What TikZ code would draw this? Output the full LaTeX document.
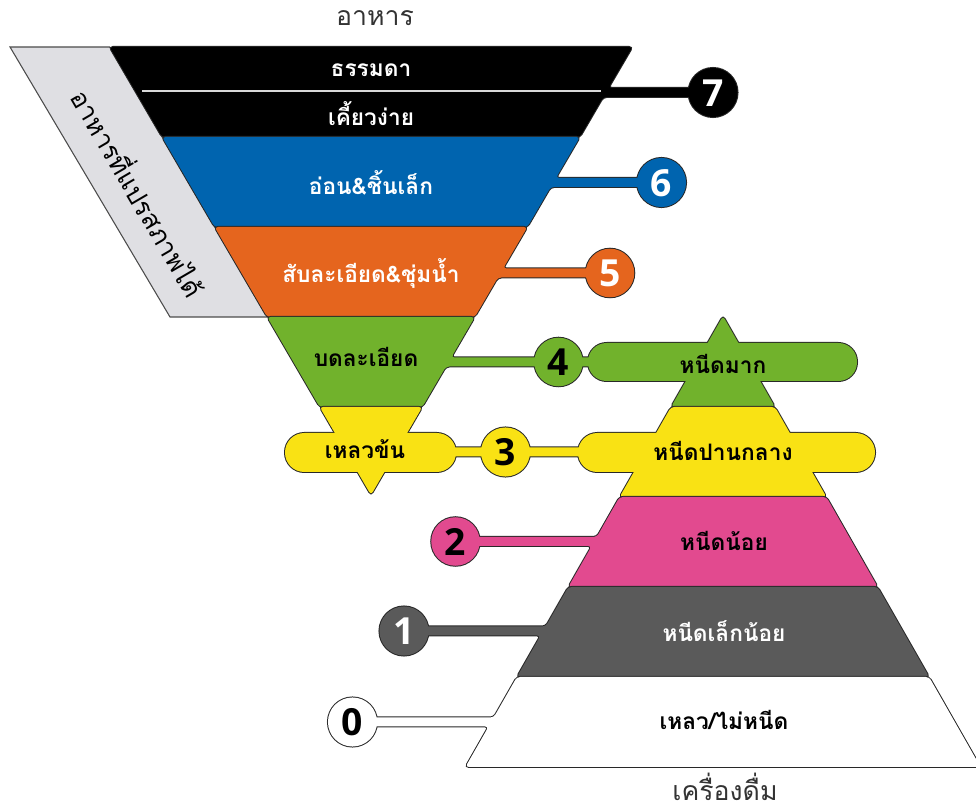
\documentclass[tikz,border=0pt]{standalone}
\usepackage{fontspec}
\newfontfamily\thai[Script=Thai]{Loma}
\newfontfamily\numf{Open Sans}
\definecolor{cBlue}{RGB}{0,100,175}
\definecolor{cOrange}{RGB}{229,101,30}
\definecolor{cGreen}{RGB}{113,178,44}
\definecolor{cYellow}{RGB}{249,226,20}
\definecolor{cPink}{RGB}{226,74,143}
\definecolor{cDark}{RGB}{90,90,90}
\definecolor{cSide}{RGB}{223,223,227}
\definecolor{cLine}{RGB}{40,40,40}
\tikzset{
  outl/.style={draw=cLine, line width=1.5pt, rounded corners=2.5pt},
  filler/.style={fill=#1, rounded corners=2.5pt},
  lab/.style={font=\thai\bfseries\fontsize{17}{20}\selectfont, inner sep=0pt},
  num/.style={font=\numf\bfseries\fontsize{28}{30}\selectfont, inner sep=0pt},
  ttl/.style={font=\thai\fontsize{20}{24}\selectfont, text=black!80, inner sep=0pt}
}
\newcommand\grp[2]{%
  \foreach \pc in {#2}{\draw[outl] \pc;}%
  \foreach \pc in {#2}{\fill[filler=#1] \pc;}}
\begin{document}
\begin{tikzpicture}[x=0.75pt, y=-0.75pt]
\useasboundingbox (0,0) rectangle (976,812);
\clip (0,0) rectangle (976,812);
% side band
\draw[fill=cSide, draw=black!70, line width=0.8pt] (10,47) -- (109.6,47) -- (267.2,317) -- (170,317) -- cycle;
\node[font=\thai\fontsize{19.5}{22}\selectfont, rotate=-59.7, inner sep=0pt] (side) at (140,192) {อาหารที่แปรสภาพได้};
% level 7
\grp{black}{{(109.6,47) -- (632.4,47) -- (608.4,88) -- (713,88) -- (713,97) -- (603.2,97) -- (579.9,137) -- (162.1,137) -- cycle},{(713,92.5) circle[radius=18.4pt]}}
% level 6
\grp{cBlue}{{(162.1,137) -- (579.9,137) -- (555.9,178) -- (661.5,178) -- (661.5,187) -- (550.7,187) -- (527.4,227) -- (214.6,227) -- cycle},{(661.5,182.5) circle[radius=18.4pt]}}
% level 5
\grp{cOrange}{{(214.6,227) -- (527.4,227) -- (503.1,268.5) -- (610,268.5) -- (610,277.5) -- (497.9,277.5) -- (474.8,317) -- (267.2,317) -- cycle},{(610,273) circle[radius=18.2pt]}}
% level 4
\grp{cGreen}{{(267.2,317) -- (474.8,317) -- (451.2,357.5) -- (600,357.5) -- (600,366.5) -- (446,366.5) -- (422.3,407) -- (319.7,407) -- cycle},{(558.5,362) circle[radius=18.2pt]},{(723,316) -- (775,407) -- (671,407) -- cycle},{[rounded corners=14pt] (588,343) rectangle (857,381)}}
% level 3
\grp{cYellow}{{(319.7,407) -- (422.3,407) -- (371,495) -- cycle},{(440,447.5) rectangle (600,456.5)},{(505.5,452) circle[radius=18.4pt]},{(671,407) -- (775,407) -- (826.4,497) -- (619.6,497) -- cycle},{[rounded corners=14.5pt] (285,433) rectangle (456,472)},{[rounded corners=14.5pt] (578,433) rectangle (875,472)}}
% level 2
\grp{cPink}{{(619.6,497) -- (826.4,497) -- (877.7,587) -- (568.3,587) -- (591.7,546) -- (455.5,546) -- (455.5,537) -- (596.8,537) -- cycle},{(455.5,541.5) circle[radius=18.2pt]}}
% level 1
\grp{cDark}{{(568.3,587) -- (877.7,587) -- (929.1,677) -- (516.9,677) -- (540.6,635.5) -- (404,635.5) -- (404,626.5) -- (545.7,626.5) -- cycle},{(404,631) circle[radius=18.4pt]}}
% level 0
\grp{white}{{(516.9,677) -- (929.1,677) -- (980.5,767) -- (465.5,767) -- (488.6,726.5) -- (352.5,726.5) -- (352.5,717.5) -- (493.7,717.5) -- cycle},{(352.5,722) circle[radius=18.4pt]}}
% divider in black band
\draw[white!85!black, line width=1.3pt] (142,91) -- (601,91);
% labels
\node[lab, text=white] (l7a) at (371,70) {ธรรมดา};
\node[lab, text=white] (l7b) at (371,114) {เคี้ยวง่าย};
\node[lab, text=white] (l6) at (371,183) {อ่อน\&ชิ้นเล็ก};
\node[lab, text=white] (l5) at (371,273) {สับละเอียด\&ชุ่มน้ำ};
\node[lab] (l4) at (366,357) {บดละเอียด};
\node[lab] (l3) at (365,449) {เหลวข้น};
\node[lab] (r4) at (723,364) {หนีดมาก};
\node[lab] (r3) at (723,451) {หนีดปานกลาง};
\node[lab] (r2) at (724,541) {หนีดน้อย};
\node[lab, text=white] (r1) at (724,631) {หนีดเล็กน้อย};
\node[lab] (r0) at (724,720) {เหลว/ไม่หนีด};
\node[ttl] (tfood) at (375,18) {อาหาร};
\node[ttl] (tdrink) at (725,787) {เครื่องดื่ม};
% numbers
\node[num, text=white] (n7) at (713,93) {7};
\node[num, text=white] (n6) at (661.5,183) {6};
\node[num, text=white] (n5) at (610,273) {5};
\node[num] (n4) at (558.5,362) {4};
\node[num] (n3) at (505.5,452) {3};
\node[num] (n2) at (455.5,542) {2};
\node[num, text=white] (n1) at (404,631) {1};
\node[num] (n0) at (352.5,722) {0};
\end{tikzpicture}
\end{document}
